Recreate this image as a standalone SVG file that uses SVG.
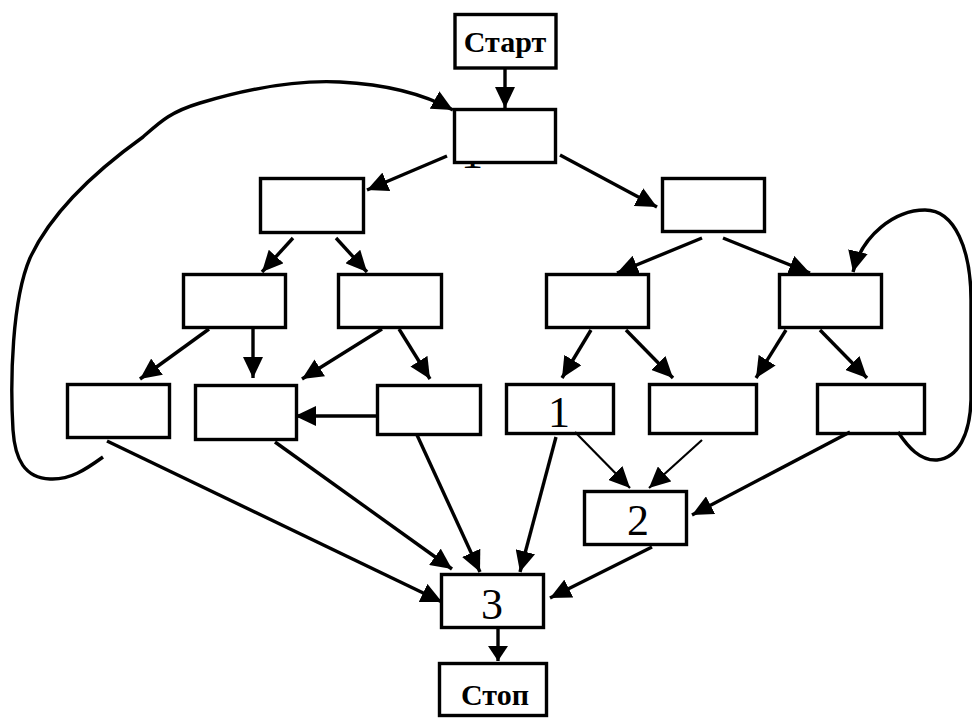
<svg xmlns="http://www.w3.org/2000/svg" width="972" height="718" viewBox="0 0 972 718">
<style>
.box{fill:#fff;stroke:#000;stroke-width:3.4}
.lbl{font-family:"Liberation Serif","Times New Roman",serif;font-weight:bold;font-size:30px;text-anchor:middle;fill:#000}
.num{font-family:"Liberation Serif","Times New Roman",serif;font-size:44px;text-anchor:middle;fill:#000}
.c{fill:none;stroke:#000;stroke-width:3.4}
.t{fill:none;stroke:#000;stroke-width:2.2}
</style>
<defs>
<marker id="ah" markerUnits="userSpaceOnUse" markerWidth="21" markerHeight="20" refX="21" refY="10" orient="auto">
<path d="M0,0 L21,10 L0,20 z" fill="#000"/>
</marker>
<marker id="ahs" markerUnits="userSpaceOnUse" markerWidth="15" markerHeight="20" refX="15" refY="10" orient="auto">
<path d="M0,0 L15,10 L0,20 z" fill="#000"/>
</marker>
</defs>
<rect width="972" height="718" fill="#fff"/>
<text class="num" x="472" y="168">1</text>
<g id="start"><rect class="box" x="455" y="14.5" width="101" height="53.5"/><text class="lbl" x="505" y="52">Старт</text></g>
<g id="nA"><rect class="box" x="454.5" y="109.5" width="101" height="53"/></g>
<g id="nB"><rect class="box" x="260.5" y="178.5" width="103" height="54"/></g>
<g id="nE"><rect class="box" x="662.5" y="178.5" width="102" height="53"/></g>
<g id="nC1"><rect class="box" x="183.5" y="274.5" width="102" height="53"/></g>
<g id="nC2"><rect class="box" x="338.5" y="274.5" width="103" height="53"/></g>
<g id="nF1"><rect class="box" x="546.5" y="274.5" width="102" height="53"/></g>
<g id="nF2"><rect class="box" x="779.5" y="274.5" width="102" height="53"/></g>
<g id="nD1"><rect class="box" x="67.5" y="384.5" width="102" height="53"/></g>
<g id="nD2"><rect class="box" x="195.5" y="385.5" width="101" height="54"/></g>
<g id="nD3"><rect class="box" x="377.5" y="385.5" width="103" height="49"/></g>
<g id="nG1"><rect class="box" x="506.5" y="384.5" width="107" height="49"/><text class="num" x="559" y="427">1</text></g>
<g id="nG2"><rect class="box" x="649.5" y="384.5" width="107" height="49"/></g>
<g id="nG3"><rect class="box" x="817.5" y="384.5" width="107" height="49"/></g>
<g id="n2"><rect class="box" x="584.5" y="491.5" width="102" height="53"/><text class="num" x="638" y="535">2</text></g>
<g id="n3"><rect class="box" x="441.5" y="574.5" width="102" height="53"/><text class="num" x="492" y="619">3</text></g>
<g id="stop"><rect class="box" x="439.5" y="663.5" width="107" height="52"/><text class="lbl" x="495" y="705">Стоп</text></g>
<g id="connectors">
<path class="c" d="M505,69 L505,108" marker-end="url(#ah)"/>
<path class="c" d="M447,156 L367,190" marker-end="url(#ah)"/>
<path class="c" d="M560,155 L657,207" marker-end="url(#ah)"/>
<path class="c" d="M293,238 L262,272" marker-end="url(#ah)"/>
<path class="c" d="M336,238 L367,272" marker-end="url(#ah)"/>
<path class="c" d="M702,238 L617,273" marker-end="url(#ah)"/>
<path class="c" d="M723,238 L810,273" marker-end="url(#ah)"/>
<path class="c" d="M209,329 L140,379" marker-end="url(#ah)"/>
<path class="c" d="M253,329 L253,378" marker-end="url(#ah)"/>
<path class="c" d="M382,329 L302,379" marker-end="url(#ah)"/>
<path class="c" d="M399,329 L430,379" marker-end="url(#ah)"/>
<path class="c" d="M376,416 L295,416" marker-end="url(#ah)"/>
<path class="c" d="M591,330 L562,378" marker-end="url(#ah)"/>
<path class="c" d="M626,330 L673,378" marker-end="url(#ah)"/>
<path class="c" d="M786,330 L756,378" marker-end="url(#ah)"/>
<path class="c" d="M820,330 L867,378" marker-end="url(#ah)"/>
<path class="t" d="M575,432 L630,488" marker-end="url(#ah)"/>
<path class="t" d="M702,440 L649,488" marker-end="url(#ah)"/>
<path class="c" d="M850,432 L692,515" marker-end="url(#ah)"/>
<path class="c" d="M652,547 L550,598" marker-end="url(#ah)"/>
<path class="c" d="M556,437 L520,572" marker-end="url(#ah)"/>
<path class="c" d="M417,435 L480,572" marker-end="url(#ah)"/>
<path class="c" d="M275,442 L452,569" marker-end="url(#ah)"/>
<path class="c" d="M107,441 L442,602" marker-end="url(#ah)"/>
<path class="c" d="M498,629 L498,661" marker-end="url(#ahs)"/>
<path class="c" d="M103,457 C85,470 70,480 50,479 C25,478 15,460 13,430 C10,380 12,300 30,258 C50,215 90,175 143,137 C160,122 170,112 200,103 C250,88 300,80 340,82 C380,84 420,92 453,110" marker-end="url(#ah)"/>
<path class="c" d="M898,432 C908,447 920,461 937,460 C958,458 970,435 971,400 L971,300 C971,250 955,210 925,210 C895,210 862,235 853,272" marker-end="url(#ah)"/>
</g>
</svg>
